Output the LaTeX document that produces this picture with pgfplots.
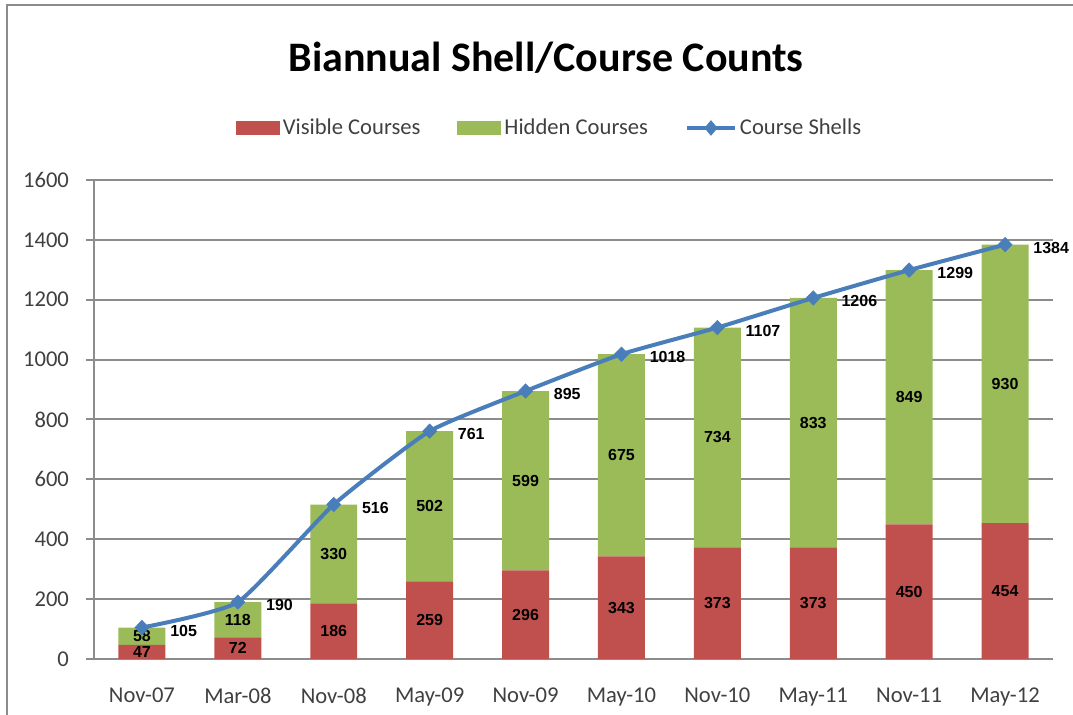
\documentclass[border=0pt]{standalone}
\usepackage{pgfplots}
\usepackage{pgfplotstable}
\pgfplotsset{compat=1.18}
\usepackage{fontspec}
\setmainfont{Carlito}
\newfontfamily\lab{Liberation Sans}
\definecolor{vis}{RGB}{192,80,77}
\definecolor{hid}{RGB}{155,187,89}
\definecolor{lineblue}{RGB}{74,126,187}
\definecolor{gridgray}{RGB}{140,140,140}
\definecolor{ticktext}{RGB}{64,64,64}

\pgfplotstableread{
x vis hid shell
0 47 58 105
1 72 118 190
2 186 330 516
3 259 502 761
4 296 599 895
5 343 675 1018
6 373 734 1107
7 373 833 1206
8 450 849 1299
9 454 930 1384
}\data

\begin{document}
\begin{tikzpicture}
\path[use as bounding box] (0,0) rectangle (536.5pt,357.5pt);
\draw[gridgray, line width=1pt] (3.5pt,0pt) -- (3.5pt,355pt) -- (536.5pt,355pt);
\pgfplotsset{
  base/.style={
    at={(47pt,28pt)}, anchor=south west, scale only axis,
    width=479.5pt, height=239.5pt,
    xmin=-0.5, xmax=9.5, ymin=0, ymax=1600,
    /pgf/number format/1000 sep={},
    /pgf/number format/assume math mode=true,
  }
}
\begin{axis}[
  base,
  ybar stacked, bar width=0.49,
  xtick={0,...,9},
  xticklabels={Nov-07,Mar-08,Nov-08,May-09,Nov-09,May-10,Nov-10,May-11,Nov-11,May-12},
  ytick={0,200,...,1600},
  axis x line*=bottom, axis y line*=left,
  ymajorgrids, grid style={gridgray, line width=1pt},
  axis line style={gridgray, line width=1pt},
  x tick style={draw=none},
  y tick style={gridgray, line width=1pt},
  major tick length=4pt, tick align=outside,
  tick label style={font=\fontsize{11.3}{13}\selectfont, text=ticktext},
  xticklabel style={yshift=-7pt},
  yticklabel style={xshift=-5pt},
  legend columns=3,
  legend style={draw=none, fill=none, at={(0.4755,1.1086)}, anchor=center,
    font=\fontsize{11.3}{13}\selectfont, text=ticktext,
    nodes={inner xsep=1.5pt, inner ysep=1pt},
    /tikz/every even column/.append style={column sep=17pt}},
]
\addplot+[fill=vis, draw=none, mark=none,
  legend image code/.code={\fill[vis] (0pt,-3.5pt) rectangle (22pt,3.5pt);}]
  table[x=x, y=vis] {\data};
\addlegendentry{Visible Courses}
\addplot+[fill=hid, draw=none, mark=none,
  legend image code/.code={\fill[hid] (0pt,-3.5pt) rectangle (22pt,3.5pt);}]
  table[x=x, y=hid] {\data};
\addlegendentry{Hidden Courses}
\addlegendimage{legend image code/.code={
  \draw[lineblue, line width=2pt] (0pt,0pt) -- (24pt,0pt);
  \fill[lineblue] (12pt,3.6pt) -- (15pt,0pt) -- (12pt,-3.6pt) -- (9pt,0pt) -- cycle;}}
\addlegendentry{Course Shells}
\end{axis}
\begin{axis}[
  base, hide axis,
  nodes near coords,
  point meta=explicit,
  every node near coord/.append style={font=\lab\bfseries\fontsize{8}{9}\selectfont, text=black, inner sep=0pt},
]
\addplot[draw=none, mark=none, nodes near coords,
  every node near coord/.append style={anchor=center}]
  table[x=x, y expr=\thisrow{vis}/2, meta=vis] {\data};
\addplot[draw=none, mark=none, nodes near coords,
  every node near coord/.append style={anchor=center}]
  table[x=x, y expr=\thisrow{vis}+\thisrow{hid}/2, meta=hid] {\data};
\addplot[lineblue, line width=2pt, smooth, tension=0.3,
  mark=diamond*, mark size=3.6pt,
  mark options={solid, fill=lineblue, draw=lineblue, line width=0.3pt, xscale=1.3},
  nodes near coords,
  every node near coord/.append style={anchor=west, xshift=14pt, yshift=-1.5pt}]
  table[x=x, y=shell, meta=shell] {\data};
\end{axis}
\node[font=\bfseries\fontsize{21}{25}\selectfont] at (273pt,328.5pt) {Biannual Shell/Course Counts};
\end{tikzpicture}
\end{document}
